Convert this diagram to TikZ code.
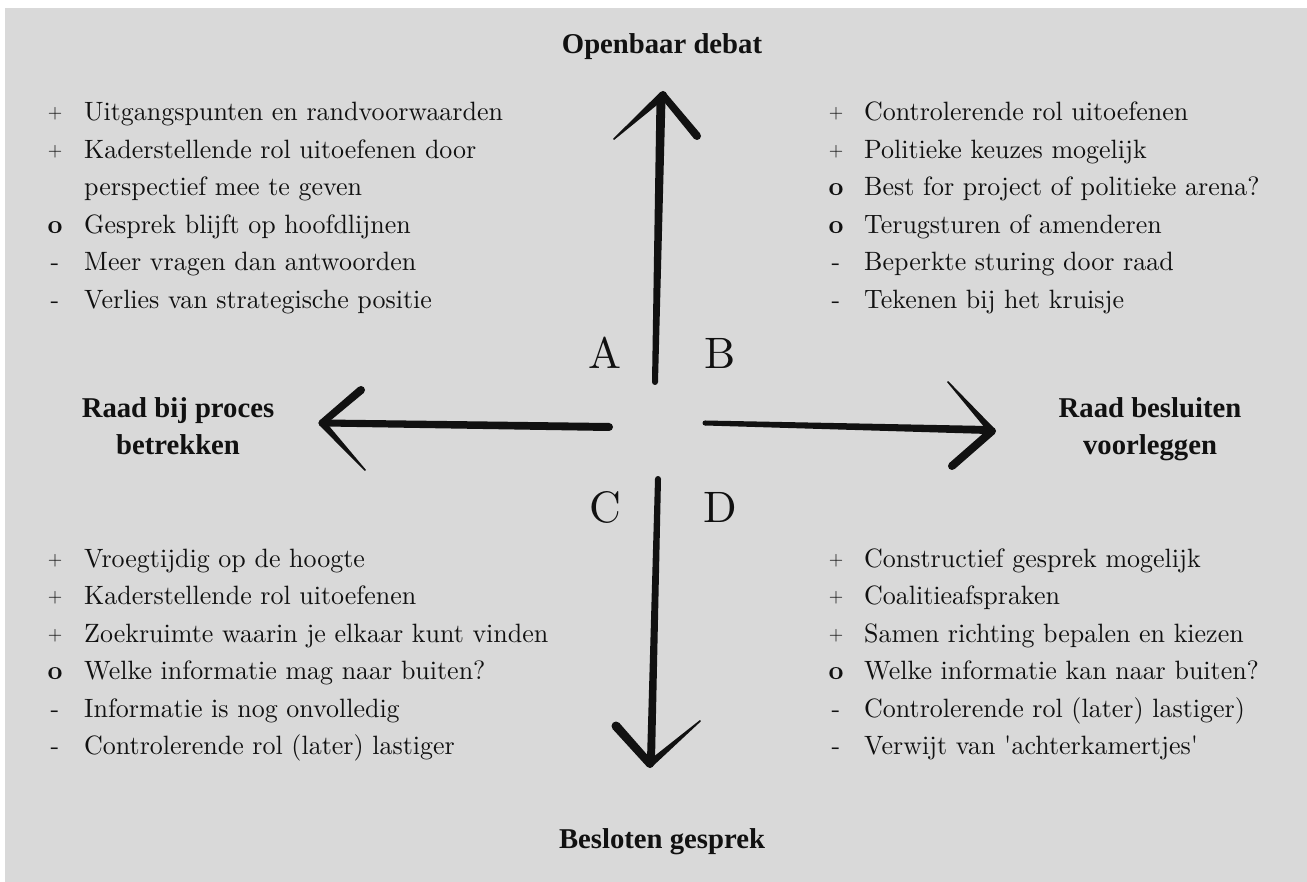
\documentclass[tikz,border=0pt]{standalone}
\usepackage{fontspec}
\setmainfont{lmroman10-regular.otf}[BoldFont=lmroman10-bold.otf, FakeStretch=0.98]
\newfontfamily\headfont{Liberation Serif}
\newfontfamily\letterfont{lmroman10-regular.otf}
\usetikzlibrary{calc}
\definecolor{bg}{HTML}{D9D9D9}
\definecolor{ink}{HTML}{111111}
\newcommand\brush[4]{%
  \fill[ink] ($(#1)!#3!90:(#2)$) -- ($(#2)!#4!-90:(#1)$) -- ($(#2)!#4!90:(#1)$) -- ($(#1)!#3!-90:(#2)$) -- cycle;
  \fill[ink] (#1) circle[radius=#3];
  \fill[ink] (#2) circle[radius=#4];}
\tikzset{
  item/.style={anchor=base west, inner sep=0pt, text=ink, font=\fontsize{26.5}{30}\selectfont},
  bullet/.style={anchor=base, inner sep=0pt, text=ink, font=\fontsize{26.5}{30}\selectfont},
  plus/.style={anchor=base, inner sep=0pt, text=ink, font=\fontsize{19}{22}\selectfont},
  head/.style={anchor=base, inner sep=0pt, text=ink, font=\headfont\bfseries\fontsize{28.7}{37}\selectfont, align=center},
  letter/.style={anchor=base, inner sep=0pt, text=ink, font=\letterfont\fontsize{44}{48}\selectfont}
}
\begin{document}
\begin{tikzpicture}[x=1pt,y=-1pt]
\useasboundingbox (0,0) rectangle (1307,882);
\fill[white] (0,0) rectangle (1307,882);
\fill[bg] (5,8) rectangle (1307,882);

% headings
\node[head] (top) at (662,54) {Openbaar debat};
\node[head] (bot) at (662,848) {Besloten gesprek};
\node[head] (lft1) at (178,418) {Raad bij proces};
\node[head] (lft2) at (178,455) {betrekken};
\node[head] (rgt1) at (1150,418) {Raad besluiten};
\node[head] (rgt2) at (1150,455) {voorleggen};

% quadrant letters
\node[letter] (A) at (605,369) {A};
\node[letter] (B) at (720,369) {B};
\node[letter] (C) at (605,522) {C};
\node[letter] (D) at (720,522) {D};

% top-left list
\node[plus] (a1m) at (55,119) {+};
\node[item] (a1) at (84,121) {Uitgangspunten en randvoorwaarden};
\node[plus] (a2m) at (55,156.5) {+};
\node[item] (a2) at (84,158.5) {Kaderstellende rol uitoefenen door};
\node[item] (a2b) at (84,196) {perspectief mee te geven};
\node[bullet] (a3m) at (55,233.5) {\bfseries o};
\node[item] (a3) at (84,233.5) {Gesprek blijft op hoofdlijnen};
\node[bullet] (a4m) at (55,271) {-};
\node[item] (a4) at (84,271) {Meer vragen dan antwoorden};
\node[bullet] (a5m) at (55,308.5) {-};
\node[item] (a5) at (84,308.5) {Verlies van strategische positie};

% top-right list
\node[plus] (b1m) at (836,119) {+};
\node[item] (b1) at (864,121) {Controlerende rol uitoefenen};
\node[plus] (b2m) at (836,156.5) {+};
\node[item] (b2) at (864,158.5) {Politieke keuzes mogelijk};
\node[bullet] (b3m) at (836,196) {\bfseries o};
\node[item] (b3) at (864,196) {Best for project of politieke arena?};
\node[bullet] (b4m) at (836,233.5) {\bfseries o};
\node[item] (b4) at (864,233.5) {Terugsturen of amenderen};
\node[bullet] (b5m) at (836,271) {-};
\node[item] (b5) at (864,271) {Beperkte sturing door raad};
\node[bullet] (b6m) at (836,308.5) {-};
\node[item] (b6) at (864,308.5) {Tekenen bij het kruisje};

% bottom-left list
\node[plus] (c1m) at (55,565) {+};
\node[item] (c1) at (84,567) {Vroegtijdig op de hoogte};
\node[plus] (c2m) at (55,602.5) {+};
\node[item] (c2) at (84,604.5) {Kaderstellende rol uitoefenen};
\node[plus] (c3m) at (55,640) {+};
\node[item] (c3) at (84,642) {Zoekruimte waarin je elkaar kunt vinden};
\node[bullet] (c4m) at (55,679.5) {\bfseries o};
\node[item] (c4) at (84,679.5) {Welke informatie mag naar buiten?};
\node[bullet] (c5m) at (55,717) {-};
\node[item] (c5) at (84,717) {Informatie is nog onvolledig};
\node[bullet] (c6m) at (55,754.5) {-};
\node[item] (c6) at (84,754.5) {Controlerende rol (later) lastiger};

% bottom-right list
\node[plus] (d1m) at (836,565) {+};
\node[item] (d1) at (864,567) {Constructief gesprek mogelijk};
\node[plus] (d2m) at (836,602.5) {+};
\node[item] (d2) at (864,604.5) {Coalitieafspraken};
\node[plus] (d3m) at (836,640) {+};
\node[item] (d3) at (864,642) {Samen richting bepalen en kiezen};
\node[bullet] (d4m) at (836,679.5) {\bfseries o};
\node[item] (d4) at (864,679.5) {Welke informatie kan naar buiten?};
\node[bullet] (d5m) at (836,717) {-};
\node[item] (d5) at (864,717) {Controlerende rol (later) lastiger)};
\node[bullet] (d6m) at (836,754.5) {-};
\node[item] (d6) at (864,754.5) {Verwijt van \textquotesingle achterkamertjes\textquotesingle};

% arrow coordinates
\coordinate (us) at (655,382);
\coordinate (ue) at (661,99);
\coordinate (ut) at (663,95);
\coordinate (ul) at (614,139);
\coordinate (ur) at (697,136);

\coordinate (ls) at (609,427);
\coordinate (le) at (325,423);
\coordinate (lt) at (322,423);
\coordinate (lu) at (361,390);
\coordinate (ld) at (365,470);

\coordinate (rs) at (705,423);
\coordinate (re) at (988,430);
\coordinate (rt) at (992,431);
\coordinate (ru) at (948,382);
\coordinate (rd) at (952,466);

\coordinate (ds) at (658,479);
\coordinate (de) at (651,760);
\coordinate (dt) at (650,764);
\coordinate (dl) at (616,726);
\coordinate (dr) at (700,721);

% up arrow
\brush{us}{ue}{3pt}{4.5pt}
\brush{ut}{ul}{4pt}{0.8pt}
\brush{ut}{ur}{3.5pt}{4pt}
% left arrow
\brush{ls}{le}{4pt}{3.5pt}
\brush{lt}{lu}{3.5pt}{4pt}
\brush{lt}{ld}{3.5pt}{0.8pt}
% right arrow
\brush{rs}{re}{2.5pt}{4pt}
\brush{rt}{ru}{3.5pt}{0.8pt}
\brush{rt}{rd}{4pt}{4pt}
% down arrow
\brush{ds}{de}{3pt}{4pt}
\brush{dt}{dl}{4pt}{4.5pt}
\brush{dt}{dr}{3.5pt}{0.8pt}
\end{tikzpicture}
\end{document}
